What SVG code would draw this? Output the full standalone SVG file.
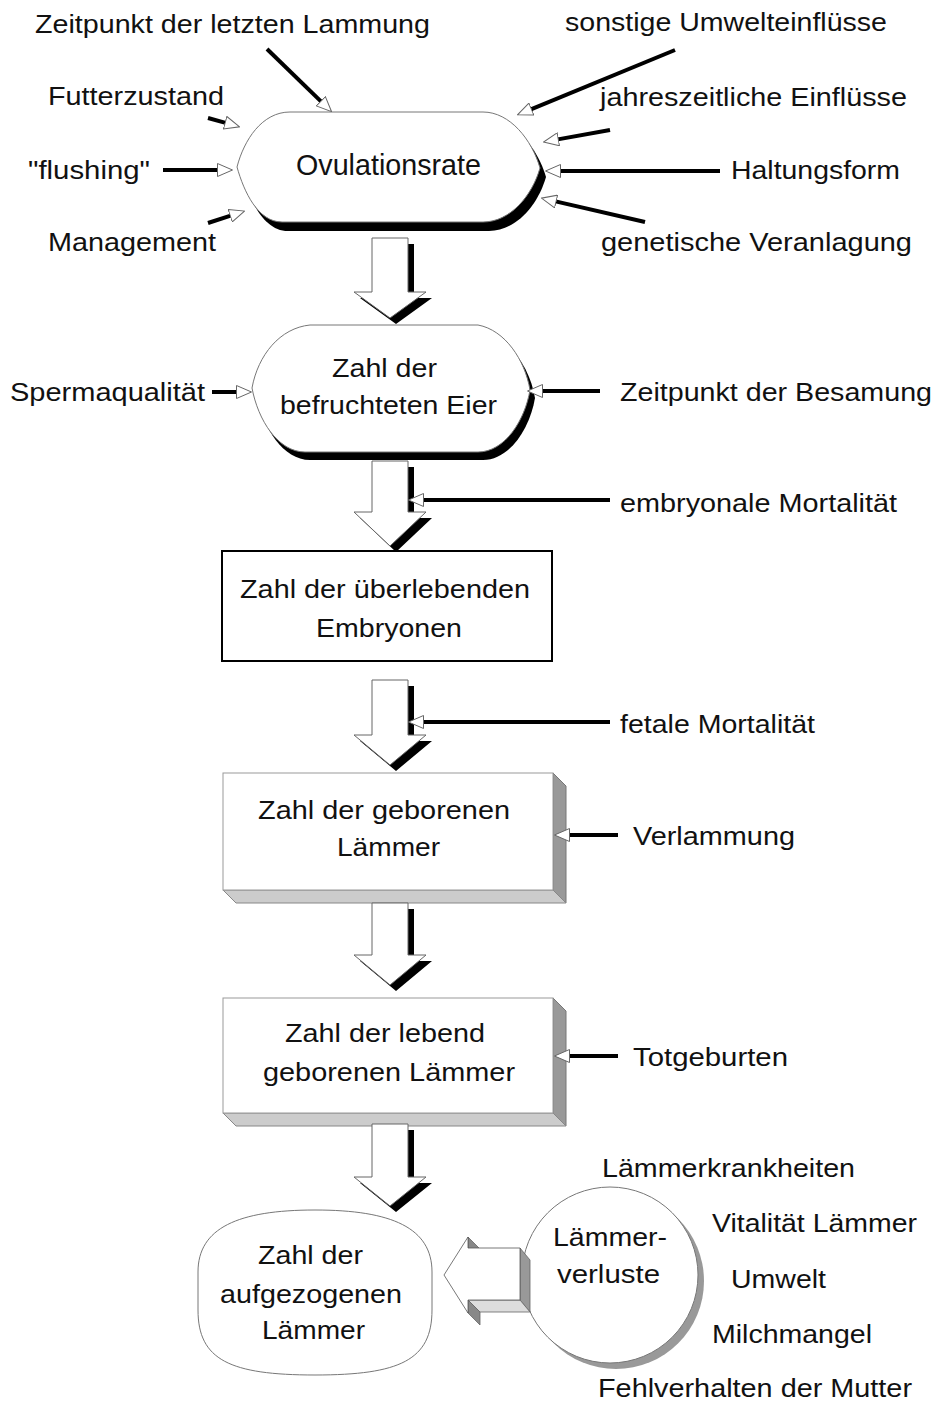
<svg xmlns="http://www.w3.org/2000/svg" width="936" height="1403" viewBox="0 0 936 1403">
<defs>
<style>
text{font-family:"Liberation Sans",Arial,sans-serif;font-size:26px;fill:#111;}
.big{font-size:29px;}
.shape{fill:#fff;stroke:#777;stroke-width:1;}
.shadow{fill:#000;}
.line{stroke:#000;stroke-width:4;fill:none;}
.arrowF{fill:#fff;stroke:#666;stroke-width:1;}
.arrowS{fill:#000;}
.face{fill:#fff;stroke:#999;stroke-width:1;}
.side{fill:#999;stroke:#777;stroke-width:1;}
.bottom{fill:#ccc;stroke:#888;stroke-width:1;}
</style>
<marker id="ah" viewBox="0 0 16 14" refX="1" refY="7" markerWidth="16" markerHeight="14" markerUnits="userSpaceOnUse" orient="auto">
<path d="M0.5,0.5 L15.5,7 L0.5,13.5 Z" fill="#fff" stroke="#666" stroke-width="1"/>
</marker>
</defs>
<rect width="936" height="1403" fill="#fff"/>

<g id="node-ovulationsrate">
<path class="shadow" transform="translate(6,9)" d="M290,112 L483,112 C510,112 532,140 540,168 C532,196 510,222 483,222 L282,222 C258,222 244,192 237,167 C244,140 262,112 290,112 Z"/>
<path class="shape" d="M290,112 L483,112 C510,112 532,140 540,168 C532,196 510,222 483,222 L282,222 C258,222 244,192 237,167 C244,140 262,112 290,112 Z"/>
<text class="big" x="296" y="175" textLength="185" lengthAdjust="spacingAndGlyphs">Ovulationsrate</text>
</g>

<g id="node-befruchtete-eier">
<path class="shadow" transform="translate(5,8)" d="M310,325 L478,325 C505,330 525,360 530,390 C525,420 505,452 478,452 L305,452 C278,452 258,420 252,388 C258,355 280,328 310,325 Z"/>
<path class="shape" d="M310,325 L478,325 C505,330 525,360 530,390 C525,420 505,452 478,452 L305,452 C278,452 258,420 252,388 C258,355 280,328 310,325 Z"/>
<text x="332" y="377" textLength="105" lengthAdjust="spacingAndGlyphs">Zahl der</text>
<text x="280" y="414" textLength="217" lengthAdjust="spacingAndGlyphs">befruchteten Eier</text>
</g>

<g id="node-ueberlebende-embryonen">
<rect x="222" y="551" width="330" height="110" fill="#fff" stroke="#000" stroke-width="2"/>
<text x="240" y="598" textLength="290" lengthAdjust="spacingAndGlyphs">Zahl der überlebenden</text>
<text x="316" y="637" textLength="146" lengthAdjust="spacingAndGlyphs">Embryonen</text>
</g>

<g id="node-geborene-laemmer">
<polygon class="side" points="553,773 566,786 566,903 553,890"/>
<polygon class="bottom" points="223,890 553,890 566,903 236,903"/>
<rect class="face" x="223" y="773" width="330" height="117"/>
<text x="258" y="819" textLength="252" lengthAdjust="spacingAndGlyphs">Zahl der geborenen</text>
<text x="337" y="856" textLength="103" lengthAdjust="spacingAndGlyphs">Lämmer</text>
</g>

<g id="node-lebend-geborene">
<polygon class="side" points="553,998 566,1011 566,1126 553,1113"/>
<polygon class="bottom" points="223,1113 553,1113 566,1126 236,1126"/>
<rect class="face" x="223" y="998" width="330" height="115"/>
<text x="285" y="1042" textLength="200" lengthAdjust="spacingAndGlyphs">Zahl der lebend</text>
<text x="263" y="1081" textLength="252" lengthAdjust="spacingAndGlyphs">geborenen Lämmer</text>
</g>

<g id="node-aufgezogene">
<path class="shape" d="M315,1210 C392,1210 432,1228 432,1272 L432,1310 C432,1360 400,1375 315,1375 C230,1375 198,1360 198,1310 L198,1272 C198,1228 238,1210 315,1210 Z"/>
<text x="258" y="1264" textLength="105" lengthAdjust="spacingAndGlyphs">Zahl der</text>
<text x="220" y="1303" textLength="182" lengthAdjust="spacingAndGlyphs">aufgezogenen</text>
<text x="262" y="1339" textLength="103" lengthAdjust="spacingAndGlyphs">Lämmer</text>
</g>

<g id="node-laemmerverluste">
<circle cx="616" cy="1281" r="88" fill="#999"/>
<circle cx="610" cy="1275" r="88" fill="#fff" stroke="#777" stroke-width="1"/>
<text x="553" y="1246" textLength="114" lengthAdjust="spacingAndGlyphs">Lämmer-</text>
<text x="557" y="1283" textLength="103" lengthAdjust="spacingAndGlyphs">verluste</text>
</g>

<g id="labels">
<text x="35" y="33" textLength="395" lengthAdjust="spacingAndGlyphs">Zeitpunkt der letzten Lammung</text>
<text x="565" y="31" textLength="322" lengthAdjust="spacingAndGlyphs">sonstige Umwelteinflüsse</text>
<text x="48" y="105" textLength="176" lengthAdjust="spacingAndGlyphs">Futterzustand</text>
<text x="600" y="106" textLength="307" lengthAdjust="spacingAndGlyphs">jahreszeitliche Einflüsse</text>
<text x="28" y="179" textLength="122" lengthAdjust="spacingAndGlyphs">"flushing"</text>
<text x="731" y="179" textLength="169" lengthAdjust="spacingAndGlyphs">Haltungsform</text>
<text x="48" y="251" textLength="168" lengthAdjust="spacingAndGlyphs">Management</text>
<text x="601" y="251" textLength="311" lengthAdjust="spacingAndGlyphs">genetische Veranlagung</text>
<text x="10" y="401" textLength="195" lengthAdjust="spacingAndGlyphs">Spermaqualität</text>
<text x="620" y="401" textLength="312" lengthAdjust="spacingAndGlyphs">Zeitpunkt der Besamung</text>
<text x="620" y="512" textLength="277" lengthAdjust="spacingAndGlyphs">embryonale Mortalität</text>
<text x="620" y="733" textLength="195" lengthAdjust="spacingAndGlyphs">fetale Mortalität</text>
<text x="633" y="845" textLength="162" lengthAdjust="spacingAndGlyphs">Verlammung</text>
<text x="633" y="1066" textLength="155" lengthAdjust="spacingAndGlyphs">Totgeburten</text>
<text x="602" y="1177" textLength="253" lengthAdjust="spacingAndGlyphs">Lämmerkrankheiten</text>
<text x="712" y="1232" textLength="205" lengthAdjust="spacingAndGlyphs">Vitalität Lämmer</text>
<text x="731" y="1288" textLength="95" lengthAdjust="spacingAndGlyphs">Umwelt</text>
<text x="712" y="1343" textLength="160" lengthAdjust="spacingAndGlyphs">Milchmangel</text>
<text x="598" y="1397" textLength="314" lengthAdjust="spacingAndGlyphs">Fehlverhalten der Mutter</text>
</g>

<g id="connectors">
<path class="arrowS" transform="translate(6,6)" d="M372,238 H408 V292 H426 L390,318 L354,292 H372 Z"/>
<path class="arrowF" d="M372,238 H408 V292 H426 L390,318 L354,292 H372 Z"/>
<path class="arrowS" transform="translate(6,6)" d="M372,461 H408 V512 H426 L390,546 L354,512 H372 Z"/>
<path class="arrowF" d="M372,461 H408 V512 H426 L390,546 L354,512 H372 Z"/>
<path class="arrowS" transform="translate(6,6)" d="M372,680 H408 V735 H426 L390,765 L354,735 H372 Z"/>
<path class="arrowF" d="M372,680 H408 V735 H426 L390,765 L354,735 H372 Z"/>
<path class="arrowS" transform="translate(6,6)" d="M372,903 H408 V955 H426 L390,985 L354,955 H372 Z"/>
<path class="arrowF" d="M372,903 H408 V955 H426 L390,985 L354,955 H372 Z"/>
<path class="arrowS" transform="translate(6,6)" d="M372,1124 H408 V1177 H426 L390,1206 L354,1177 H372 Z"/>
<path class="arrowF" d="M372,1124 H408 V1177 H426 L390,1206 L354,1177 H372 Z"/>

<line class="line" x1="267" y1="49" x2="321.2" y2="101.6" marker-end="url(#ah)"/>
<line class="line" x1="208" y1="118" x2="225.6" y2="122.9" stroke-width="5" marker-end="url(#ah)"/>
<line class="line" x1="163" y1="170" x2="218" y2="170" marker-end="url(#ah)"/>
<line class="line" x1="208" y1="223" x2="230.7" y2="215.6" marker-end="url(#ah)"/>
<line class="line" x1="675" y1="50" x2="530.9" y2="109.3" marker-end="url(#ah)"/>
<line class="line" x1="610" y1="130" x2="557.8" y2="139.4" marker-end="url(#ah)"/>
<line class="line" x1="720" y1="171" x2="560" y2="171" marker-end="url(#ah)"/>
<line class="line" x1="645" y1="222" x2="555.6" y2="201.4" marker-end="url(#ah)"/>
<line class="line" x1="212" y1="392" x2="237" y2="392" stroke-width="6" marker-end="url(#ah)"/>
<line class="line" x1="600" y1="391" x2="542" y2="391" marker-end="url(#ah)"/>
<line class="line" x1="610" y1="500" x2="423" y2="500" marker-end="url(#ah)"/>
<line class="line" x1="610" y1="722" x2="423" y2="722" marker-end="url(#ah)"/>
<line class="line" x1="618" y1="835" x2="569" y2="835" marker-end="url(#ah)"/>
<line class="line" x1="618" y1="1056" x2="569" y2="1056" marker-end="url(#ah)"/>

<polygon points="468,1237 480,1249 468,1249" fill="#888" stroke="#666" stroke-width="0.8"/>
<polygon points="520,1248 530,1260 530,1312 520,1300" fill="#999" stroke="#666" stroke-width="0.8"/>
<polygon points="468,1300 520,1300 530,1312 480,1312" fill="#ddd" stroke="#666" stroke-width="0.8"/>
<polygon points="468,1300 480,1312 480,1325 468,1313" fill="#888" stroke="#666" stroke-width="0.8"/>
<polygon points="444,1275 468,1237 468,1248 520,1248 520,1300 468,1300 468,1313" fill="#fff" stroke="#555" stroke-width="0.8"/>
</g>
</svg>
